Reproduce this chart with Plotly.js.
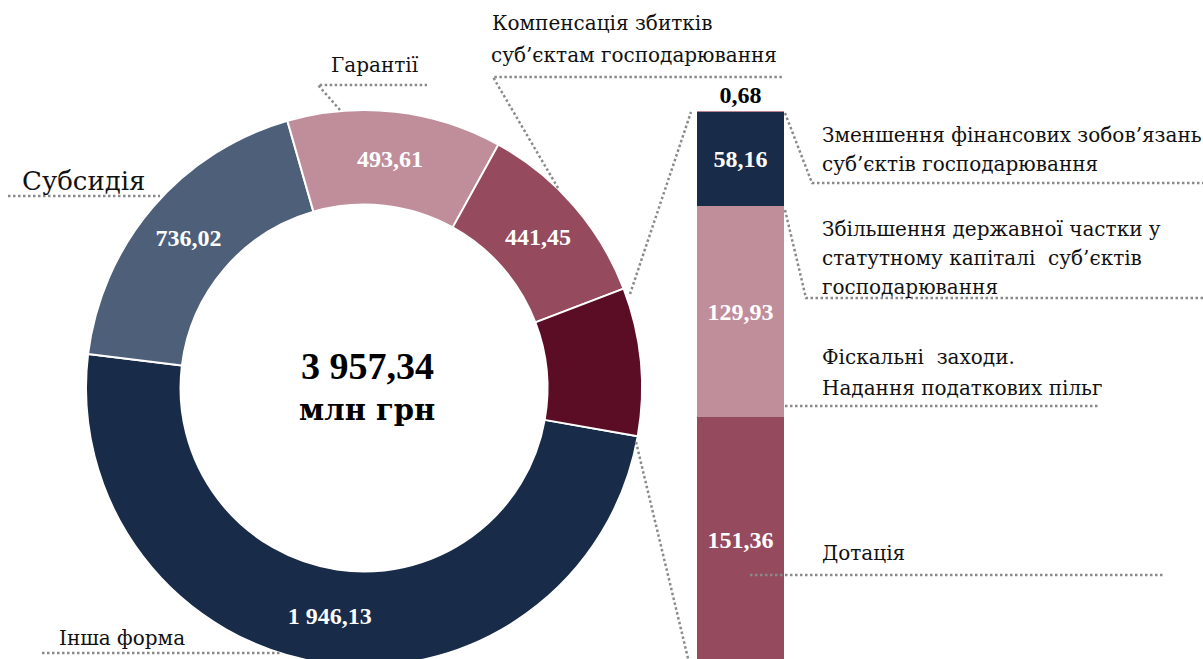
<!DOCTYPE html>
<html>
<head>
<meta charset="utf-8">
<script src="https://cdn.plot.ly/plotly-3.0.1.min.js"></script>
<style>
html,body{margin:0;padding:0;background:#fff;overflow:hidden;}
#chart{width:1203px;height:670px;}
</style>
</head>
<body>
<div id="chart"></div>
<script>
// ---- Data ----
const pieLabels = ['Інша форма', 'Субсидія', 'Гарантії', 'Компенсація збитків суб’єктам господарювання', 'Інші форми'];
const pieMainValues = [1946.13, 736.02, 493.61, 441.45];
const pieColors = ['#182b48', '#4e6079', '#c08e9b', '#964a5d', '#5b0d26'];

const barLabels = ['Дотація', 'Фіскальні заходи. Надання податкових пільг', 'Збільшення державної частки у статутному капіталі суб’єктів господарювання', 'Зменшення фінансових зобов’язань суб’єктів господарювання'];
const barValues = [151.36, 129.93, 58.16, 0.68];
const barColors = ['#964a5d', '#c08e9b', '#182b48', '#b8848f'];

const totalText = '3 957,34';
const unitText = 'млн грн';

// ---- Helpers ----
function fmt(v) {
  const s = v.toFixed(2).split('.');
  const intPart = s[0].replace(/\B(?=(\d{3})+(?!\d))/g, ' ');
  return intPart + ',' + s[1];
}
const W = 1203, H = 670;
const px = x => x / W;
const py = y => 1 - y / H;

const barSum = barValues.reduce((a, b) => a + b, 0);
const pieValues = pieMainValues.concat([barSum]);
const pieText = pieMainValues.map(fmt).concat(['']);

const SERIF = 'Liberation Serif, DejaVu Serif, serif';
const CYR = 'DejaVu Serif, Liberation Serif, serif';

// ---- Pie ----
const cx = 364, cy = 388, R = 278;
const pie = {
  type: 'pie',
  labels: pieLabels,
  values: pieValues,
  text: pieText,
  textinfo: 'text',
  textposition: 'inside',
  insidetextorientation: 'horizontal',
  sort: false,
  direction: 'clockwise',
  rotation: 100,
  hole: 0.66,
  marker: {colors: pieColors, line: {color: '#ffffff', width: 2}},
  insidetextfont: {family: SERIF, size: 24, color: '#ffffff', weight: 'bold'},
  domain: {x: [px(cx - R), px(cx + R)], y: [py(cy + R), py(cy - R)]},
  showlegend: false,
  hoverinfo: 'label+value'
};

// ---- Stacked bar ----
const barTraces = barValues.map((v, i) => {
  const isTop = i === barValues.length - 1;
  return {
    type: 'bar',
    x: ['bar'],
    y: [v],
    name: barLabels[i],
    xaxis: 'x2', yaxis: 'y2',
    marker: {color: barColors[i], line: {width: 0}},
    text: [fmt(v)],
    textposition: isTop ? 'outside' : 'inside',
    insidetextanchor: 'middle',
    textfont: {family: SERIF, size: 24, color: isTop ? '#000000' : '#ffffff', weight: 'bold'},
    outsidetextfont: {family: SERIF, size: 24, color: '#000000', weight: 'bold'},
    insidetextfont: {family: SERIF, size: 24, color: '#ffffff', weight: 'bold'},
    constraintext: 'none',
    cliponaxis: false,
    showlegend: false,
    width: 1
  };
});

// bar axis range so that 0 maps near y=663px and the full sum maps to y=111px
const yBottomPx = 663, yTopPx = 111;
const span = barSum * H / (yBottomPx - yTopPx);
const r0 = -span * (H - yBottomPx) / H;
const r1 = r0 + span;

// ---- Annotations (labels) ----
function lab(x, y, text, size) {
  return {xref: 'paper', yref: 'paper', x: px(x), y: py(y), text: text, showarrow: false,
    xanchor: 'left', yanchor: 'middle', align: 'left',
    font: {family: CYR, size: size || 20, color: '#111111'}};
}
const annotations = [
  {xref: 'paper', yref: 'paper', x: px(367), y: py(366), text: '<b>' + totalText + '</b>', showarrow: false,
   xanchor: 'center', yanchor: 'middle', font: {family: SERIF, size: 38, color: '#000000'}},
  {xref: 'paper', yref: 'paper', x: px(367), y: py(410), text: '<b>' + unitText + '</b>', showarrow: false,
   xanchor: 'center', yanchor: 'middle', font: {family: CYR, size: 29, color: '#000000'}},
  lab(20, 181, pieLabels[1], 26),
  lab(329, 65, pieLabels[2]),
  lab(490, 23, 'Компенсація збитків'),
  lab(489, 55, 'суб’єктам господарювання'),
  lab(57, 638, pieLabels[0]),
  lab(820, 135, 'Зменшення фінансових зобов’язань'),
  lab(820, 164, 'суб’єктів господарювання'),
  lab(820, 229, 'Збільшення державної частки у'),
  lab(820, 258, 'статутному капіталі  суб’єктів'),
  lab(820, 287, 'господарювання'),
  lab(820, 357, 'Фіскальні  заходи.'),
  lab(820, 388, 'Надання податкових пільг'),
  lab(820, 553, barLabels[0])
];

// ---- Dotted leader lines ----
const dotLine = {color: '#8a8a8a', width: 2.5, dash: '2.5px,2.5px'};
function seg(pts) {
  let p = 'M ' + px(pts[0][0]) + ' ' + py(pts[0][1]);
  for (let i = 1; i < pts.length; i++) p += ' L ' + px(pts[i][0]) + ' ' + py(pts[i][1]);
  return {type: 'path', xref: 'paper', yref: 'paper', path: p, line: dotLine, layer: 'above'};
}
const shapes = [
  seg([[8, 196], [160, 196]]),
  seg([[340, 110], [318, 85], [427, 85]]),
  seg([[558, 188], [493, 77], [783, 77]]),
  seg([[42, 653], [280, 653]]),
  seg([[630, 294], [691, 112]]),
  seg([[636, 442], [692, 675]]),
  seg([[785, 113], [812, 183], [1203, 183]]),
  seg([[785, 210], [806, 298], [1203, 298]]),
  seg([[785, 406], [1100, 406]]),
  seg([[750, 575], [1165, 575]])
];

const layout = {
  width: W, height: H,
  margin: {l: 0, r: 0, t: 0, b: 0, pad: 0},
  paper_bgcolor: '#ffffff', plot_bgcolor: 'rgba(0,0,0,0)',
  barmode: 'stack', bargap: 0,
  showlegend: false,
  xaxis2: {domain: [px(697), px(784)], range: [-0.5, 0.5], visible: false, fixedrange: true, anchor: 'y2'},
  yaxis2: {domain: [0, 1], range: [r0, r1], visible: false, fixedrange: true, anchor: 'x2'},
  xaxis: {visible: false}, yaxis: {visible: false},
  annotations: annotations,
  shapes: shapes,
  font: {family: SERIF}
};

Plotly.newPlot('chart', [pie].concat(barTraces), layout, {displayModeBar: false, staticPlot: true});
</script>
</body>
</html>
